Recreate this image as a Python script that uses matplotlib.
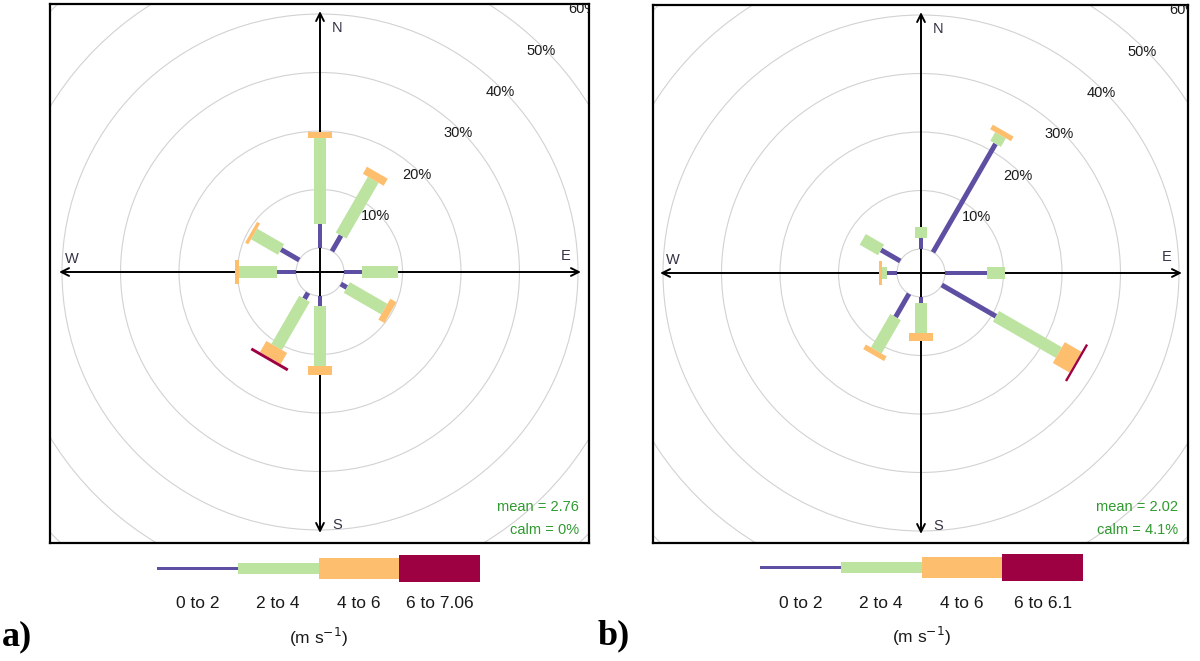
import numpy as np
import matplotlib.pyplot as plt
from matplotlib.patches import Polygon, Rectangle, Circle

plt.rcParams['font.family'] = ['Liberation Sans', 'DejaVu Sans']

# wind direction sectors (degrees, clockwise from north)
directions = [0, 30, 60, 90, 120, 150, 180, 210, 240, 270, 300, 330]

# frequency (%) per speed bin, panel a
a_0_2 = [4.1, 3.1, 0, 3.1, 1.2, 0, 1.7, 1.2, 0, 3.3, 3.6, 0]
a_2_4 = [14.7, 11.0, 0, 6.2, 7.4, 0, 10.3, 9.5, 0, 6.4, 5.3, 0]
a_4_6 = [1.0, 1.4, 0, 0, 1.2, 0, 1.5, 2.2, 0, 0.7, 0.6, 0]
a_6_up = [0, 0, 0, 0, 0, 0, 0, 0.5, 0, 0, 0, 0]

# frequency (%) per speed bin, panel b
b_0_2 = [1.9, 21.4, 0, 7.2, 10.7, 0, 1.0, 4.6, 0, 1.7, 3.8, 0]
b_2_4 = [1.9, 1.7, 0, 3.1, 12.4, 0, 5.2, 6.6, 0, 0.9, 3.6, 0]
b_4_6 = [0, 0.9, 0, 0, 3.3, 0, 1.4, 0.9, 0, 0.5, 0, 0]
b_6_up = [0, 0, 0, 0, 0.4, 0, 0, 0, 0, 0, 0, 0]

labels_a = ['0 to 2', '2 to 4', '4 to 6', '6 to 7.06']
labels_b = ['0 to 2', '2 to 4', '4 to 6', '6 to 6.1']
mean_a, calm_a = '2.76', '0%'
mean_b, calm_b = '2.02', '4.1%'

ring_levels = [10, 20, 30, 40, 50, 60]

colours = ['#5e4fa2', '#bde3a0', '#fdbe6e', '#9e0142']
paddle_w = [0.85, 2.1, 4.1, 7.2]
offset = 4.1          # radius of the calm circle
arrow_len = 44.6
S = 5.85              # pixels per percent

W, H = 1200, 661
fig = plt.figure(figsize=(W / 100, H / 100), dpi=100)


def px_axes(x0, y0, x1, y1):
    return fig.add_axes([x0 / W, 1 - y1 / H, (x1 - x0) / W, (y1 - y0) / H])


def draw_rose(box, centre, bins, mean, calm):
    x0, y0, x1, y1 = box
    cx, cy = centre
    ax = px_axes(x0, y0, x1, y1)
    ax.set_xlim((x0 - cx) / S, (x1 - cx) / S)
    ax.set_ylim((cy - y1) / S, (cy - y0) / S)
    ax.set_xticks([])
    ax.set_yticks([])
    for sp in ax.spines.values():
        sp.set_linewidth(1.6)

    # rings
    ax.add_patch(Circle((0, 0), offset, fill=False, ec='#d2d2d2', lw=0.8))
    for lev in ring_levels:
        r = offset + lev
        ax.add_patch(Circle((0, 0), r, fill=False, ec='#d2d2d2', lw=0.8))
        ang = np.radians(45)
        ax.text((r - 0.6) * np.sin(ang), (r - 0.6) * np.cos(ang), f'{lev}%',
                ha='center', va='center', fontsize=10.5, color='#1a1a1a',
                clip_on=True, zorder=8)

    # axis arrows
    arrow = dict(arrowstyle='<->', color='black', lw=1.4, mutation_scale=14,
                 shrinkA=0, shrinkB=0)
    ax.annotate('', xy=(0, arrow_len), xytext=(0, -arrow_len), arrowprops=arrow)
    ax.annotate('', xy=(arrow_len, 0), xytext=(-arrow_len, 0), arrowprops=arrow)
    kw = dict(fontsize=10.5, color='#333344', ha='center', va='center')
    ax.text(2.9, arrow_len - 2.9, 'N', **kw)
    ax.text(arrow_len - 2.6, 2.8, 'E', **kw)
    ax.text(2.9, -arrow_len + 1.3, 'S', **kw)
    ax.text(-arrow_len + 2.1, 2.3, 'W', **kw)

    # paddles
    for k, wd in enumerate(directions):
        th = np.radians(wd)
        u = np.array([np.sin(th), np.cos(th)])
        p = np.array([np.cos(th), -np.sin(th)])
        r0 = offset
        for b in range(4):
            v = bins[b][k]
            if v <= 0:
                continue
            r1 = r0 + v
            hw = paddle_w[b] / 2
            pts = [r0 * u - hw * p, r1 * u - hw * p, r1 * u + hw * p, r0 * u + hw * p]
            ax.add_patch(Polygon(pts, closed=True, fc=colours[b], ec='none', zorder=3 + b))
            r0 = r1

    ax.text(0.982, 0.066, f'mean = {mean}', transform=ax.transAxes,
            ha='right', va='center', fontsize=10.5, color='#2f9a2f')
    ax.text(0.982, 0.025, f'calm = {calm}', transform=ax.transAxes,
            ha='right', va='center', fontsize=10.5, color='#2f9a2f')


draw_rose((50, 4, 589, 543), (320, 272), [a_0_2, a_2_4, a_4_6, a_6_up], mean_a, calm_a)
draw_rose((653, 5, 1188, 543), (921, 273), [b_0_2, b_2_4, b_4_6, b_6_up], mean_b, calm_b)

# legends and panel letters, in pixel coordinates
lax = fig.add_axes([0, 0, 1, 1])
lax.set_xlim(0, W)
lax.set_ylim(H, 0)
lax.axis('off')
lax.patch.set_alpha(0)

heights = [3, 11, 21, 27]


def draw_key(x_start, y_mid, labels):
    seg = 80.75
    for i in range(4):
        lax.add_patch(Rectangle((x_start + i * seg, y_mid - heights[i] / 2), seg,
                                heights[i], fc=colours[i], ec='none'))
        lax.text(x_start + (i + 0.5) * seg, y_mid + 36, labels[i], ha='center',
                 va='center', fontsize=12.5, color='#1a1a1a')
    lax.text(x_start + 2 * seg, y_mid + 69, r'(m s$^{-1}$)', ha='center',
             va='center', fontsize=12.5, color='#1a1a1a')


draw_key(157, 568, labels_a)
draw_key(760, 567, labels_b)

lax.text(2, 637, 'a)', ha='left', va='center', fontsize=26, fontweight='bold',
         family='Liberation Serif')
lax.text(598, 636, 'b)', ha='left', va='center', fontsize=26, fontweight='bold',
         family='Liberation Serif')

fig.savefig('out.png', dpi=100)
